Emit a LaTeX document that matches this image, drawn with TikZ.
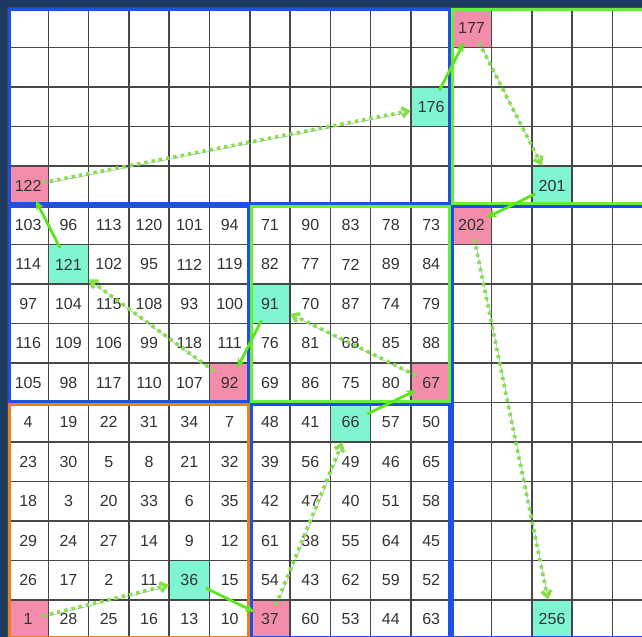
\documentclass[tikz,border=0pt]{standalone}
\usepackage{fontspec}
\setmainfont{Liberation Sans}
\usepackage{xcolor}
\usetikzlibrary{arrows.meta}

\definecolor{navybg}{HTML}{1B3A5F}
\definecolor{frameblue}{HTML}{1E50E6}
\definecolor{framegreen}{HTML}{66F033}
\definecolor{frameorange}{HTML}{E8801E}
\definecolor{startpink}{HTML}{F48CAC}
\definecolor{endaqua}{HTML}{80F5D2}
\definecolor{linkgreen}{HTML}{5CE61E}
\definecolor{dotgreen}{HTML}{86E04A}
\definecolor{dotshade}{HTML}{8A94A8}

\begin{document}
\begin{tikzpicture}[
  x=40.3pt,
  y=-39.45pt,
  every node/.style={font=\fontsize{16}{18}\selectfont,text=black!80},
  cell/.style={rectangle,minimum width=40.3pt,minimum height=39.45pt,inner sep=0pt},
  startcell/.style={cell,fill=startpink},
  endcell/.style={cell,fill=endaqua},
  gridline/.style={draw=black!72,line width=1.5pt},
  frame/.style={line width=3pt},
  jump/.style={
    -{Stealth[length=10pt,width=8pt]},
    draw=linkgreen,
    line width=2.8pt,
    shorten <=-4pt,
    shorten >=-6pt
  },
  walk/.style={
    -{Straight Barb[length=6pt,width=9pt]},
    draw=dotgreen,
    line width=3.6pt,
    dash pattern=on 3.4pt off 4pt,
    shorten <=-6pt,
    preaction={draw=dotshade,transform canvas={shift={(0.8pt,-1.2pt)}}}
  }
]

\useasboundingbox (-0.1985,-0.2028) rectangle (15.732,15.944);
\clip (-0.1985,-0.2028) rectangle (15.732,15.944);

% Backdrop and empty table.
\fill[navybg] (-0.1985,-0.2028) rectangle (15.732,15.944);
\fill[white] (0,0) rectangle (16,16);

% First and last cell of every block.
\foreach \v/\c/\r in {1/0/15,37/6/15,67/10/9,92/5/9,122/0/4,177/11/0,202/11/5}
  \node[startcell] (c\v) at (\c+0.5,\r+0.5) {};
\foreach \v/\c/\r in {36/4/14,66/8/10,91/6/7,121/1/6,176/10/2,201/13/4,256/13/15}
  \node[endcell] (c\v) at (\c+0.5,\r+0.5) {};

% Cell borders.
\foreach \i in {0,...,16} {
  \draw[gridline] (\i,0) -- (\i,16);
  \draw[gridline] (0,\i) -- (16,\i);
}

% Block frames.
\foreach \tone/\xa/\ya/\xb/\yb in {frameblue/0/0/11/5,framegreen/11/0/16/5,
    frameblue/0/5/6/10,framegreen/6/5/11/10,frameorange/0/10/6/16,
    frameblue/6/10/11/16,frameblue/11/5/16/16}
  \draw[frame,draw=\tone]
    ([shift={(1.5pt,-1.5pt)}]\xa,\ya) rectangle ([shift={(-1.5pt,1.5pt)}]\xb,\yb);

% Filled rows.
\foreach \r/\vals in {
    5/{103,96,113,120,101,94,71,90,83,78,73},
    6/{114,121,102,95,112,119,82,77,72,89,84},
    7/{97,104,115,108,93,100,91,70,87,74,79},
    8/{116,109,106,99,118,111,76,81,68,85,88},
    9/{105,98,117,110,107,92,69,86,75,80,67},
    10/{4,19,22,31,34,7,48,41,66,57,50},
    11/{23,30,5,8,21,32,39,56,49,46,65},
    12/{18,3,20,33,6,35,42,47,40,51,58},
    13/{29,24,27,14,9,12,61,38,55,64,45},
    14/{26,17,2,11,36,15,54,43,62,59,52},
    15/{1,28,25,16,13,10,37,60,53,44,63}}
  \foreach \v [count=\c from 0] in \vals
    \node (n\v) at (\c+0.5,\r+0.5) {\v};

% Lone numbers in the large blocks.
\foreach \v/\c/\r in {122/0/4,176/10/2,177/11/0,201/13/4,202/11/5,256/13/15}
  \node (n\v) at (\c+0.5,\r+0.5) {\v};

% Walk through each block, then jump to the next one.
\foreach \a/\b in {1/36,37/66,67/91,92/121,122/176,177/201,202/256}
  \draw[walk] (c\a) -- (c\b);
\foreach \a/\b in {36/37,66/67,91/92,121/122,176/177,201/202}
  \draw[jump] (c\a) -- (c\b);

\end{tikzpicture}
\end{document}
